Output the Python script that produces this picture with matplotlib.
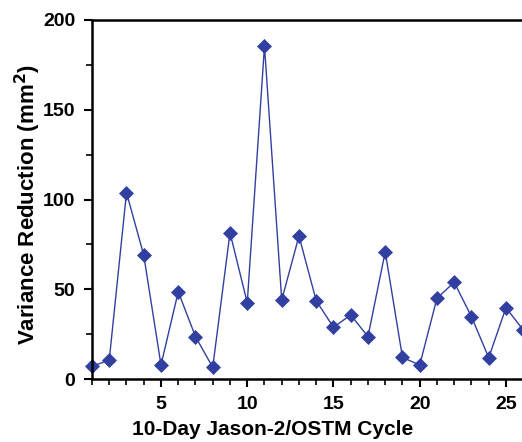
import matplotlib
matplotlib.use("Agg")
import matplotlib.pyplot as plt
from matplotlib.ticker import MultipleLocator

# 10-day cycle number and variance reduction (mm^2)
cycles = list(range(1, 27))
var_reduction = [7, 10.6, 103.8, 69, 7.8, 48.6, 23.6, 6.5, 81.5, 42.5,
                 185.5, 44, 79.7, 43.6, 28.8, 35.7, 23.6, 70.9, 12, 7.8,
                 45, 53.9, 34.7, 11.9, 39.7, 27.3]

plt.rcParams['font.family'] = ['Liberation Sans', 'DejaVu Sans']
plt.rcParams['font.weight'] = 'bold'

fig = plt.figure(figsize=(5.22, 4.42), dpi=100)
ax = fig.add_axes([92 / 522, 63 / 442, 1 - 92 / 522, 359 / 442])

color = '#3140a0'
ax.plot(cycles, var_reduction, '-', color=color, lw=1.0,
        marker='D', markersize=7.5, markerfacecolor=color, markeredgecolor=color,
        markeredgewidth=0.5, clip_on=False)

ax.set_xlim(1, 25.93)
ax.set_ylim(0, 200)
ax.xaxis.set_major_locator(MultipleLocator(5))
ax.xaxis.set_minor_locator(MultipleLocator(1))
ax.yaxis.set_major_locator(MultipleLocator(50))
ax.yaxis.set_minor_locator(MultipleLocator(25))

ax.spines['right'].set_visible(False)
for s in ['left', 'top', 'bottom']:
    ax.spines[s].set_linewidth(1.8)
ax.tick_params(which='major', direction='out', length=6, width=1.5,
               labelsize=14, pad=6)
ax.tick_params(which='minor', direction='out', length=4, width=1.2)

ax.set_xlabel('10-Day Jason-2/OSTM Cycle', fontsize=15, fontweight='bold',
              labelpad=2)
ax.xaxis.set_label_coords(0.419, -0.115)
ax.set_ylabel('Variance Reduction (mm$^\\mathbf{2}$)', fontsize=16,
              fontweight='bold', labelpad=6)
ax.yaxis.set_label_coords(-0.115, 0.485)

fig.savefig('out.png', dpi=100)
